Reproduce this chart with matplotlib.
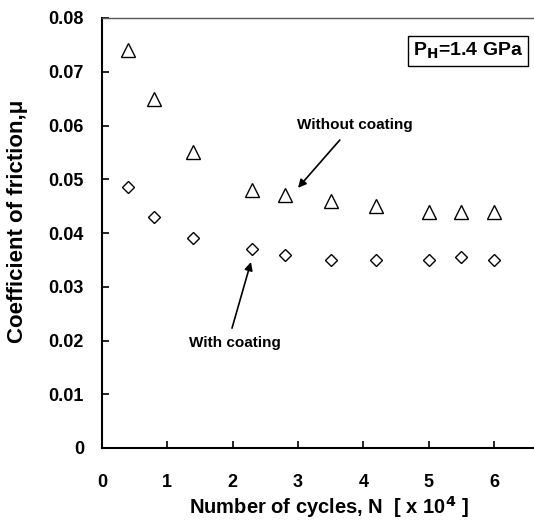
import matplotlib
matplotlib.use("Agg")
import matplotlib.pyplot as plt

plt.rcParams['font.family'] = ['Liberation Sans', 'DejaVu Sans']
plt.rcParams['font.weight'] = 'bold'

cycles = [0.4, 0.8, 1.4, 2.3, 2.8, 3.5, 4.2, 5.0, 5.5, 6.0]
without_coating = [0.074, 0.065, 0.055, 0.048, 0.047, 0.046, 0.045, 0.044, 0.044, 0.044]
with_coating = [0.0485, 0.043, 0.039, 0.037, 0.036, 0.035, 0.035, 0.035, 0.0355, 0.035]
x_ticks = [0, 1, 2, 3, 4, 5, 6]
y_ticks = [0, 0.01, 0.02, 0.03, 0.04, 0.05, 0.06, 0.07, 0.08]
y_ticklabels = ['0', '0.01', '0.02', '0.03', '0.04', '0.05', '0.06', '0.07', '0.08']

fig = plt.figure(figsize=(5.34, 5.29), dpi=100)
ax = fig.add_axes([102/534, 81/529, 432/534, 430/529])

ax.plot(cycles, without_coating, linestyle='none', marker='^', markersize=10,
        markerfacecolor='white', markeredgecolor='black', markeredgewidth=1.0)
ax.plot(cycles, with_coating, linestyle='none', marker='D', markersize=6.6,
        markerfacecolor='white', markeredgecolor='black', markeredgewidth=1.0)

ax.set_xlim(0, 432/65.33)
ax.set_ylim(0, 0.08)
ax.set_xticks(x_ticks)
ax.set_xticklabels([str(t) for t in x_ticks])
ax.set_yticks(y_ticks)
ax.set_yticklabels(y_ticklabels)

ax.tick_params(axis='both', direction='in', labelsize=13, width=1.2, length=5)
ax.tick_params(axis='x', pad=19)
ax.tick_params(axis='y', pad=13)
for lab in ax.get_xticklabels() + ax.get_yticklabels():
    lab.set_fontweight('bold')

ax.spines['right'].set_visible(False)
ax.spines['left'].set_linewidth(1.5)
ax.spines['bottom'].set_linewidth(1.5)
ax.spines['top'].set_linewidth(1.0)
ax.spines['top'].set_color('#555555')

ax.set_xlabel('Number of cycles, N  [ x 10$^{\\mathbf{4}}$ ]', fontsize=14.5, fontweight='bold')
ax.set_ylabel('Coefficient of friction,μ', fontsize=16, fontweight='bold')
ax.xaxis.set_label_coords(0.525, -0.108)
ax.yaxis.set_label_coords(-0.171, 0.527)

arrow = dict(arrowstyle='-|>', color='black', lw=1.2, mutation_scale=12, shrinkA=0, shrinkB=0)
ax.text(3.87, 0.0601, 'Without coating', fontsize=11, fontweight='bold', ha='center', va='center')
ax.annotate('', xy=(3.0, 0.0484), xytext=(3.64, 0.0573), arrowprops=arrow)
ax.text(2.03, 0.0195, 'With coating', fontsize=11, fontweight='bold', ha='center', va='center')
ax.annotate('', xy=(2.28, 0.0346), xytext=(1.99, 0.0223), arrowprops=arrow)

ax.text(0.9745, 0.923, 'P$_{\\mathbf{H}}$=1.4 GPa', transform=ax.transAxes, fontsize=14,
        fontweight='bold', ha='right', va='center',
        bbox=dict(boxstyle='square,pad=0.25', facecolor='white', edgecolor='black', linewidth=1.0))

fig.savefig('out.png', dpi=100)
